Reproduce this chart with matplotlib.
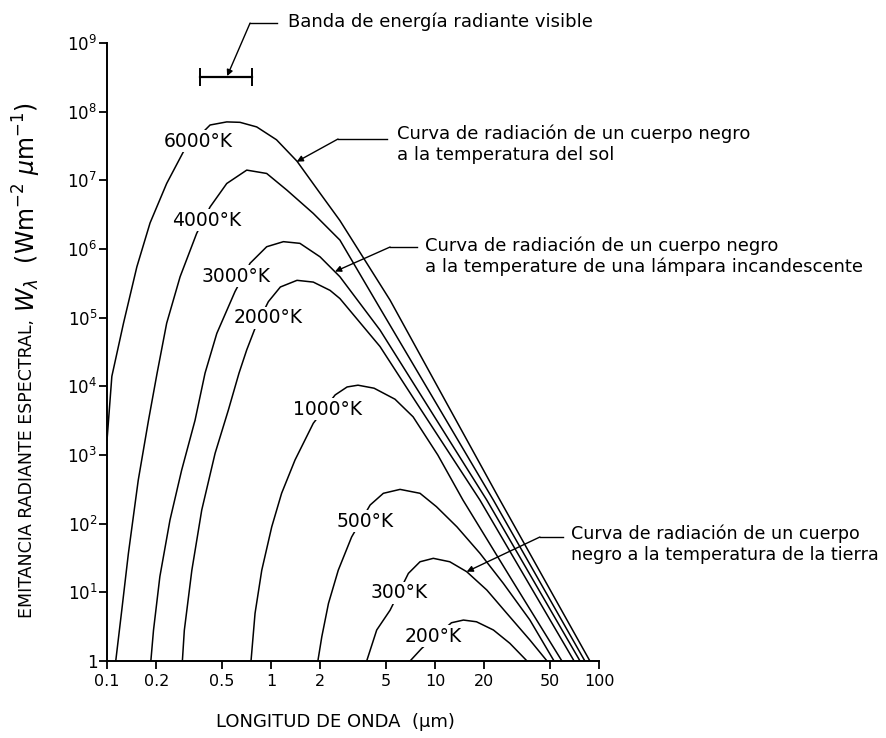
import matplotlib
matplotlib.use("Agg")
import matplotlib.pyplot as plt
from matplotlib.ticker import NullLocator

# Curvas de cuerpo negro (longitud de onda en um, W en W m-2 um-1)
wl_6000 = [0.1, 0.107, 0.126, 0.152, 0.183, 0.231, 0.292, 0.425, 0.537, 0.647, 0.818,
           1.08, 1.44, 1.99, 2.63, 5.32, 11.5, 24.9, 88]
w_6000 = [1.65e3, 1.4e4, 8.3e4, 5.5e5, 2.4e6, 9.0e6, 2.6e7, 6.4e7, 7.1e7, 7.0e7, 6.0e7,
          3.9e7, 1.9e7, 6.5e6, 2.6e6, 1.8e5, 6.3e3, 2.2e2, 1]

wl_4000 = [0.113, 0.123, 0.135, 0.155, 0.179, 0.202, 0.231, 0.279, 0.352, 0.425, 0.537,
           0.711, 0.941, 1.25, 1.81, 2.63, 4.62, 9.9, 22.7, 82]
w_4000 = [1, 5.5, 37, 430, 3.2e3, 1.56e4, 8.3e4, 3.95e5, 1.69e6, 4.1e6, 9.0e6,
          1.41e7, 1.26e7, 7.2e6, 3.3e6, 1.35e6, 1.37e5, 6.3e3, 2.2e2, 1]

wl_3000 = [0.185, 0.192, 0.21, 0.242, 0.285, 0.344, 0.396, 0.467, 0.603, 0.745, 0.941,
           1.19, 1.5, 1.99, 2.63, 4.62, 8.57, 20.7, 76.6]
w_3000 = [1, 2.8, 17, 113, 600, 3.2e3, 1.56e4, 5.9e4, 2.4e5, 6.2e5, 1.08e6,
          1.28e6, 1.21e6, 7.7e5, 3.95e5, 6.6e4, 6.3e3, 2.2e2, 1]

wl_2000 = [0.288, 0.296, 0.329, 0.378, 0.456, 0.549, 0.638, 0.711, 0.799, 0.963, 1.14,
           1.44, 1.81, 2.29, 2.63, 4.62, 7.52, 18.8, 70.5]
w_2000 = [1, 2.8, 21, 158, 1.06e3, 4.5e3, 1.56e4, 3.4e4, 7.0e4, 1.71e5, 2.8e5,
          3.5e5, 3.3e5, 2.5e5, 1.9e5, 3.8e4, 6.3e3, 2.2e2, 1]

wl_1000 = [0.755, 0.799, 0.878, 1.01, 1.16, 1.4, 1.81, 2.46, 2.91, 3.39, 4.25,
           5.7, 7.35, 10.4, 14.8, 29.5, 59.4]
w_1000 = [1, 4.95, 21, 90, 277, 845, 2.9e3, 7.5e3, 9.8e3, 1.04e4, 9.4e3,
          6.5e3, 3.6e3, 1.0e3, 221, 15, 1]

wl_500 = [1.93, 2.04, 2.24, 2.57, 3.1, 4.02, 4.84, 6.12, 8.1, 10.2, 13.6,
          18.8, 26.1, 37.9, 53.2]
w_500 = [1, 2.26, 6.9, 21, 64, 187, 277, 316, 277, 177, 90,
         37, 13.5, 3.95, 1]

wl_300 = [3.83, 4.41, 5.32, 6.88, 8.1, 9.76, 12.3, 15.6, 20.7, 27.4, 37.9, 48.2]
w_300 = [1, 2.83, 5.5, 18.9, 27.9, 31.3, 27.9, 20, 10.8, 4.95, 2.02, 1]

wl_200 = [7.04, 8.3, 12.6, 14.9, 17.9, 22.7, 28.6, 36.4]
w_200 = [1, 1.53, 3.61, 3.95, 3.73, 2.83, 1.81, 1]

curves_wl = [wl_6000, wl_4000, wl_3000, wl_2000, wl_1000, wl_500, wl_300, wl_200]
curves_w = [w_6000, w_4000, w_3000, w_2000, w_1000, w_500, w_300, w_200]

temp_labels = ['6000°K', '4000°K', '3000°K', '2000°K', '1000°K', '500°K', '300°K', '200°K']
label_wl = [0.359, 0.407, 0.612, 0.959, 2.2, 3.74, 6.03, 9.73]
label_w = [3.73e7, 2.64e6, 4.04e5, 9.9e4, 4670, 109, 9.8, 2.31]

# banda visible
band_wl = [0.37, 0.77]
band_level = 3.2e8

x_ticks = [0.1, 0.2, 0.5, 1, 2, 5, 10, 20, 50, 100]
x_tick_labels = ['0.1', '0.2', '0.5', '1', '2', '5', '10', '20', '50', '100']
y_ticks = [1, 1e1, 1e2, 1e3, 1e4, 1e5, 1e6, 1e7, 1e8, 1e9]
y_tick_labels = ['1'] + [r'$10^{%d}$' % k for k in range(1, 10)]

W, H = 886, 738


def fpx(x, y):
    # pixel position -> figure fraction
    return x / W, 1 - y / H


fig = plt.figure(figsize=(W / 100, H / 100), dpi=100)
ax = fig.add_axes([0.1208, 0.1043, 0.5553, 0.8374])

for wl, w in zip(curves_wl, curves_w):
    ax.plot(wl, w, color='black', lw=1.1)

for lab, lx, ly in zip(temp_labels, label_wl, label_w):
    ax.text(lx, ly, lab, fontsize=13.5, ha='center', va='center',
            bbox=dict(facecolor='white', edgecolor='none', pad=1))

ax.plot(band_wl, [band_level, band_level], color='black', lw=1.6,
        marker='|', markersize=13, markeredgewidth=1.4, clip_on=False)

ax.set_xscale('log')
ax.set_yscale('log')
ax.set_xlim(0.1, 100)
ax.set_ylim(1, 1e9)
ax.set_xticks(x_ticks)
ax.set_xticklabels(x_tick_labels)
ax.set_yticks(y_ticks)
ax.set_yticklabels(y_tick_labels)
ax.xaxis.set_minor_locator(NullLocator())
ax.yaxis.set_minor_locator(NullLocator())
ax.spines['top'].set_visible(False)
ax.spines['right'].set_visible(False)
ax.spines['left'].set_linewidth(1.4)
ax.spines['bottom'].set_linewidth(1.4)
ax.tick_params(axis='x', direction='out', length=6, width=1.3, labelsize=11.5, pad=3)
ax.tick_params(axis='y', direction='out', length=6, width=1.3, labelsize=12, pad=1)

# leyendas con linea guia (inicio, esquina, punta)
arrow = dict(arrowstyle='-|>', color='black', lw=1.0, mutation_scale=9,
             shrinkA=0, shrinkB=0)
leaders = [
    ((1.09, 1.95e9), (0.745, 1.95e9), (0.54, 3.3e8)),
    ((5.1, 4.0e7), (2.56, 4.0e7), (1.435, 1.87e7)),
    ((7.76, 1.07e6), (5.32, 1.07e6), (2.455, 4.7e5)),
    ((60.3, 64), (43.6, 64), (15.6, 20)),
]
for start, corner, tip in leaders:
    ax.plot([start[0], corner[0]], [start[1], corner[1]], color='black', lw=1.0, clip_on=False)
    ax.annotate('', xy=tip, xytext=corner, arrowprops=arrow, annotation_clip=False)

fig.text(*fpx(288, 22), 'Banda de energía radiante visible', fontsize=13, va='center')
fig.text(*fpx(397, 144), 'Curva de radiación de un cuerpo negro\na la temperatura del sol',
         fontsize=13, va='center', linespacing=1.2)
fig.text(*fpx(425, 256), 'Curva de radiación de un cuerpo negro\n'
         'a la temperature de una lámpara incandescente',
         fontsize=13, va='center', linespacing=1.2)
fig.text(*fpx(571, 544), 'Curva de radiación de un cuerpo\nnegro a la temperatura de la tierra',
         fontsize=12.6, va='center', linespacing=1.2)

fig.text(*fpx(335, 722), 'LONGITUD DE ONDA  (µm)', fontsize=13, ha='center', va='center')

small = fig.text(*fpx(27, 618), 'EMITANCIA RADIANTE ESPECTRAL,', fontsize=12.5,
                 rotation=90, rotation_mode='anchor', ha='left', va='center')
ax.annotate(r'$W_\lambda$  (Wm$^{-2}$ $\mu$m$^{-1}$)', xy=(0.5, 1.0), xycoords=small,
            xytext=(0, 5), textcoords='offset points', fontsize=17, rotation=90,
            ha='center', va='bottom', annotation_clip=False)

fig.savefig('out.png', dpi=100)
